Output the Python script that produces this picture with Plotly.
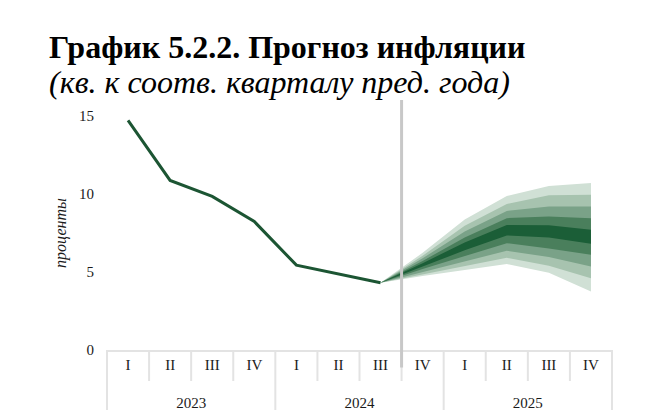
import plotly.graph_objects as go

years = ["2023"] * 4 + ["2024"] * 4 + ["2025"] * 4
quarters = ["I", "II", "III", "IV"] * 3

# actual inflation, I 2023 .. III 2024
actual = [14.7, 10.85, 9.83, 8.22, 5.43, 4.87, 4.31]

# forecast fan, III 2024 .. IV 2025 (band edges from top to bottom)
fan_start = 6
e1 = [4.31, 6.22, 8.35, 9.85, 10.50, 10.69]
e2 = [4.31, 6.04, 7.95, 9.35, 9.90, 9.94]
e3 = [4.31, 5.87, 7.58, 8.90, 9.19, 9.19]
e4 = [4.31, 5.70, 7.20, 8.44, 8.54, 8.44]
e5 = [4.31, 5.56, 6.88, 8.00, 7.98, 7.70]
e6 = [4.31, 5.34, 6.38, 7.33, 7.20, 6.80]
e7 = [4.31, 5.18, 6.02, 6.84, 6.50, 6.09]
e8 = [4.31, 5.01, 5.68, 6.35, 5.95, 5.34]
e9 = [4.31, 4.87, 5.38, 5.90, 5.40, 4.60]
e10 = [4.31, 4.73, 5.12, 5.50, 4.95, 3.74]

band_colors = ["#d0e0d5", "#a7c3af", "#7aa288", "#4a7f5c", "#1b5e37"]
line_color = "#1c5533"

year_labels = ["<br>" + y for y in years]

fig = go.Figure()

# invisible trace that fixes the category order of the axis
fig.add_trace(go.Scatter(
    x=[year_labels, quarters], y=[None] * len(quarters), mode="lines",
    hoverinfo="skip", showlegend=False,
))

fx_y = year_labels[fan_start:]
fx_q = quarters[fan_start:]
pairs = [(e1, e10), (e2, e9), (e3, e8), (e4, e7), (e5, e6)]
for (up, lo), col in zip(pairs, band_colors):
    fig.add_trace(go.Scatter(
        x=[fx_y + fx_y[::-1], fx_q + fx_q[::-1]],
        y=up + lo[::-1],
        fill="toself", fillcolor=col, mode="lines",
        line=dict(width=0, color=col), hoverinfo="skip", showlegend=False,
    ))

fig.add_trace(go.Scatter(
    x=[year_labels[:len(actual)], quarters[:len(actual)]], y=actual,
    mode="lines", line=dict(color=line_color, width=3), showlegend=False,
))

serif = "Liberation Serif"
n = len(quarters)

shapes = []
for k in range(n + 1):
    ybot = -0.24 if k % 4 == 0 else -0.124
    shapes.append(dict(type="line", xref="paper", yref="paper",
                       x0=k / n, x1=k / n, y0=0, y1=ybot,
                       line=dict(color="#e3e3e3", width=2)))
shapes.append(dict(type="line", xref="paper", yref="paper",
                   x0=(fan_start + 1) / n, x1=(fan_start + 1) / n, y0=1.0, y1=-0.07,
                   line=dict(color="#c8c8c8", width=3)))

fig.update_layout(
    width=647, height=415,
    margin=dict(l=107, r=35, t=100, b=65),
    paper_bgcolor="white", plot_bgcolor="white",
    font=dict(family=serif, color="#1a1a1a", size=15),
    shapes=shapes,
    annotations=[
        dict(text="<b>График 5.2.2. Прогноз инфляции</b>", xref="paper", yref="paper",
             x=(47 - 107) / 505, y=1.212, xanchor="left", yanchor="middle",
             showarrow=False, font=dict(family=serif, size=32, color="#000000")),
        dict(text="<i>(кв. к соотв. кварталу пред. года)</i>", xref="paper", yref="paper",
             x=(47 - 107) / 505, y=1.072, xanchor="left", yanchor="middle",
             showarrow=False, font=dict(family=serif, size=32, color="#000000")),
        dict(text="<i>проценты</i>", xref="paper", yref="paper",
             x=(61 - 107) / 505, y=(350 - 233) / 250, xanchor="center", yanchor="middle",
             textangle=-90, showarrow=False, font=dict(family=serif, size=16, color="#1a1a1a")),
    ],
    xaxis=dict(
        type="multicategory", showline=True, linecolor="#e3e3e3", linewidth=2,
        showgrid=False, ticks="", showdividers=False, automargin=False,
        tickfont=dict(family=serif, size=15, color="#1a1a1a"),
        range=[-0.5, n - 0.5],
    ),
    yaxis=dict(
        range=[0, 16], tickvals=[0, 5, 10, 15], showgrid=False, zeroline=False,
        showline=False, ticks="", ticklabelstandoff=12, automargin=False,
        tickfont=dict(family=serif, size=15, color="#1a1a1a"),
    ),
)

fig.write_html("out.html")
